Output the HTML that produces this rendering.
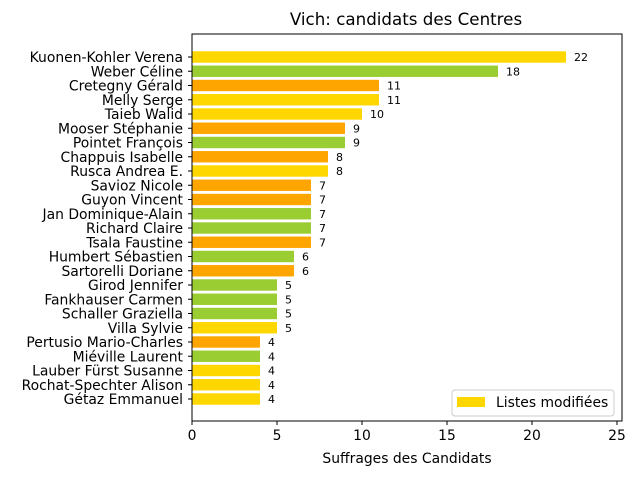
<!DOCTYPE html>
<html><head><meta charset="utf-8"><style>
body{margin:0;background:#fff;}
svg text{font-family:"DejaVu Sans","Liberation Sans",sans-serif;}
</style></head><body>
<svg id="chart" width="640" height="480" xmlns="http://www.w3.org/2000/svg">
<text x="406" y="25" font-size="16.7" text-anchor="middle">Vich: candidats des Centres</text>
<g id="bars"></g>
<g id="xticks"></g>
<rect x="192" y="34" width="430" height="387" fill="none" stroke="#000" stroke-width="1"/>
<text x="407" y="463" font-size="13.9" text-anchor="middle">Suffrages des Candidats</text>
<g>
<rect x="452" y="390" width="162" height="26" rx="3" fill="#fff" stroke="#ccc"/>
<rect x="457" y="397" width="28" height="10" fill="#FFD700"/>
<text x="496" y="407" font-size="13.9">Listes modifiées</text>
</g>
</svg>
<script>
const names=["Kuonen-Kohler Verena","Weber Céline","Cretegny Gérald","Melly Serge","Taieb Walid","Mooser Stéphanie","Pointet François","Chappuis Isabelle","Rusca Andrea E.","Savioz Nicole","Guyon Vincent","Jan Dominique-Alain","Richard Claire","Tsala Faustine","Humbert Sébastien","Sartorelli Doriane","Girod Jennifer","Fankhauser Carmen","Schaller Graziella","Villa Sylvie","Pertusio Mario-Charles","Miéville Laurent","Lauber Fürst Susanne","Rochat-Spechter Alison","Gétaz Emmanuel"];
const votes=[22,18,11,11,10,9,9,8,8,7,7,7,7,7,6,6,5,5,5,5,4,4,4,4,4];
const groups=["g","v","o","g","g","o","v","o","g","o","o","v","v","o","v","o","v","v","v","g","o","v","g","g","g"];
const xTicks=[0,5,10,15,20,25];
const colorMap={g:"#FFD700",v:"#9ACD32",o:"#FFA500"};
const ns="http://www.w3.org/2000/svg";
const x0=192,xScale=17;
const X=v=>x0+v*xScale;
const Y=i=>57+i*14.25;
const bh=11.4;
const bars=document.getElementById('bars');
function mk(t,a,p){const e=document.createElementNS(ns,t);for(const k in a)e.setAttribute(k,a[k]);p.appendChild(e);return e;}
names.forEach((n,i)=>{
 const r=mk('rect',{x:X(0),y:Y(i)-bh/2,width:X(votes[i])-X(0),height:bh,fill:colorMap[groups[i]]},bars);
 
 
 const t=mk('text',{x:X(votes[i])+8,y:Y(i)+4,'font-size':11},bars);t.textContent=votes[i];
 
 
 const l=mk('text',{x:183,y:Y(i)+5,'font-size':13.9,'text-anchor':'end'},bars);l.textContent=n;
 
 
 const tk=mk('line',{x1:188,x2:192,y1:Y(i),y2:Y(i),stroke:'#000'},bars);
 
 
});
const xt=document.getElementById('xticks');
xTicks.forEach(v=>{
 const l=mk('line',{x1:X(v),x2:X(v),y1:421,y2:425,stroke:'#000'},xt);
 
 
 const t=mk('text',{x:X(v),y:440,'font-size':13.9,'text-anchor':'middle'},xt);t.textContent=v;
 
 
});
</script>
</body></html>
